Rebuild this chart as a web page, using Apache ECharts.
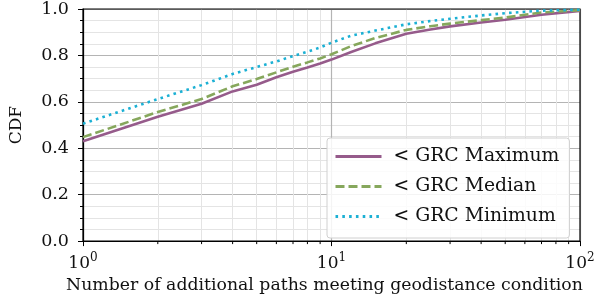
<!DOCTYPE html>
<html>
<head>
<meta charset="utf-8">
<script src="https://cdn.jsdelivr.net/npm/echarts@6/dist/echarts.min.js"></script>
<style>
html,body{margin:0;padding:0;background:#fff;}
#c{width:598px;height:299px;}
</style>
</head>
<body>
<div id="c"></div>
<script>
const xValues = [1, 2, 3, 4, 5, 6, 7, 8, 9, 10, 12, 15, 20, 25, 30, 40, 50, 70, 100];
const grcMaximum = [0.430, 0.536, 0.592, 0.645, 0.674, 0.706, 0.730, 0.748, 0.765, 0.782, 0.815, 0.852, 0.893, 0.912, 0.925, 0.942, 0.954, 0.975, 0.992];
const grcMedian  = [0.448, 0.556, 0.612, 0.667, 0.698, 0.727, 0.751, 0.770, 0.787, 0.805, 0.840, 0.875, 0.910, 0.926, 0.937, 0.952, 0.963, 0.985, 0.995];
const grcMinimum = [0.506, 0.612, 0.672, 0.720, 0.750, 0.774, 0.797, 0.816, 0.834, 0.855, 0.885, 0.907, 0.934, 0.948, 0.958, 0.972, 0.982, 0.993, 0.997];
const seriesNames = ['< GRC Maximum', '< GRC Median', '< GRC Minimum'];
const xMinorTicks = [2, 3, 4, 5, 6, 7, 8, 9, 20, 30, 40, 50, 60, 70, 80, 90];

const FONT = 'DejaVu Serif';
const pairs = arr => xValues.map((x, i) => [x, arr[i]]);

const chart = echarts.init(document.getElementById('c'), null, {renderer: 'canvas'});
chart.setOption({
  animation: false,
  backgroundColor: '#fff',
  grid: {left: 78, right: 18, top: 9, bottom: 53, show: true, borderColor: '#000', borderWidth: 1.2, backgroundColor: 'transparent', z: 3},
  legend: {
    orient: 'vertical', left: 327, top: 138,
    itemWidth: 46, itemHeight: 14, itemGap: 11,
    padding: [9, 10, 12, 7],
    backgroundColor: 'rgba(255,255,255,0.85)',
    borderColor: '#d0d0d0', borderWidth: 1, borderRadius: 3,
    itemStyle: {color: 'transparent', borderColor: 'transparent', borderWidth: 0, opacity: 0},
    lineStyle: {width: 3},
    textStyle: {fontFamily: FONT, fontSize: 18.8, color: '#111', lineHeight: 16, padding: [0, 0, 0, 7]},
    data: seriesNames
  },
  xAxis: {
    type: 'log', logBase: 10, min: 1, max: 100,
    name: 'Number of additional paths meeting geodistance condition',
    nameLocation: 'middle', nameGap: 28,
    nameTextStyle: {fontFamily: FONT, fontSize: 17.3, color: '#111', padding: [0, 14, 0, 0]},
    axisLine: {lineStyle: {color: '#000', width: 1.2}},
    axisTick: {show: true, length: 5, lineStyle: {color: '#000', width: 1}},
    axisLabel: {
      margin: 11,
      formatter: v => '{b|10}{s|' + Math.round(Math.log10(v)) + '}',
      rich: {
        b: {fontFamily: FONT, fontSize: 17, color: '#111', verticalAlign: 'bottom', lineHeight: 20},
        s: {fontFamily: FONT, fontSize: 12, color: '#111', verticalAlign: 'top', lineHeight: 20, padding: [0, 0, 8, 0]}
      }
    },
    splitLine: {show: true, lineStyle: {color: '#b4b4b4', width: 1.2}},
    minorTick: {show: false},
    minorSplitLine: {show: false}
  },
  yAxis: {
    type: 'value', min: 0, max: 1, interval: 0.2,
    name: 'CDF', nameLocation: 'middle', nameGap: 58, nameRotate: 90,
    nameTextStyle: {fontFamily: FONT, fontSize: 17, color: '#111'},
    axisLine: {show: true, lineStyle: {color: '#000', width: 1.2}},
    axisTick: {show: true, length: 5, lineStyle: {color: '#000', width: 1}},
    axisLabel: {fontFamily: FONT, fontSize: 17.5, color: '#111', margin: 14, formatter: v => v.toFixed(1)},
    splitLine: {show: true, lineStyle: {color: '#b4b4b4', width: 1.2}},
    minorTick: {show: true, splitNumber: 4, length: 3, lineStyle: {color: '#000', width: 1}},
    minorSplitLine: {show: true, lineStyle: {color: '#e4e4e4', width: 1}}
  },
  series: [
    {
      name: seriesNames[0], type: 'line', data: pairs(grcMaximum), showSymbol: false, symbol: 'none', z: 5,
      lineStyle: {color: '#965b8b', width: 2.6},
      itemStyle: {color: '#965b8b'},
      markLine: {
        silent: true, symbol: 'none', label: {show: false}, animation: false, z: 1,
        lineStyle: {color: '#e4e4e4', width: 1, type: 'solid'},
        data: xMinorTicks.map(v => ({xAxis: v}))
      }
    },
    {
      name: seriesNames[1], type: 'line', data: pairs(grcMedian), showSymbol: false, symbol: 'none', z: 6,
      lineStyle: {color: '#86a75c', width: 2.6, type: [9, 4]},
      itemStyle: {color: '#86a75c'}
    },
    {
      name: seriesNames[2], type: 'line', data: pairs(grcMinimum), showSymbol: false, symbol: 'none', z: 7,
      lineStyle: {color: '#1bb0d4', width: 2.6, type: [2.6, 4.2]},
      itemStyle: {color: '#1bb0d4'}
    },
    {
      name: 'minorTicks', type: 'custom', silent: true, clip: false, z: 8,
      data: xMinorTicks.map(v => [v, 0]),
      renderItem: (params, api) => {
        const p = api.coord([api.value(0), api.value(1)]);
        return {
          type: 'line',
          shape: {x1: p[0], y1: p[1], x2: p[0], y2: p[1] + 3},
          style: {stroke: '#000', lineWidth: 1}
        };
      }
    }
  ]
});
</script>
</body>
</html>
